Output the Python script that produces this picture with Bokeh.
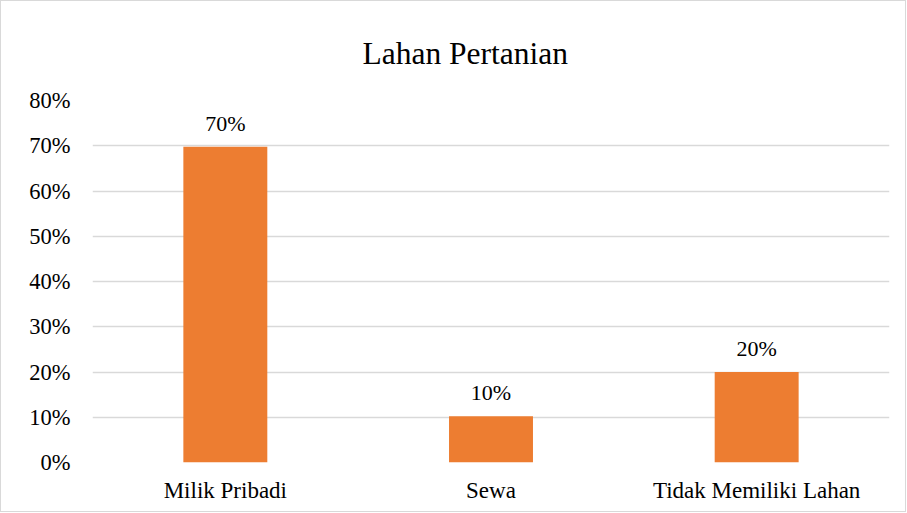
from bokeh.plotting import figure
from bokeh.models import (ColumnDataSource, FactorRange, Range1d, FixedTicker,
                          NumeralTickFormatter, LabelSet, Title)
from bokeh.embed import file_html
from bokeh.resources import INLINE

# ---- data ----
categories = ["Milik Pribadi", "Sewa", "Tidak Memiliki Lahan"]
values = [0.698, 0.102, 0.200]
value_labels = ["70%", "10%", "20%"]
y_ticks = [0.0, 0.1, 0.2, 0.3, 0.4, 0.5, 0.6, 0.7, 0.8]
title_text = "Lahan Pertanian"

FONT = "Liberation Serif"
BAR = "#ED7D31"
GRID = "#d9d9d9"
TXT = "#000000"

src = ColumnDataSource(dict(cat=categories, val=values, lab=value_labels))

p = figure(width=906, height=512, x_range=FactorRange(*categories),
           y_range=Range1d(0, 0.8), output_backend="svg", toolbar_location=None,
           min_border_left=91, min_border_right=18, min_border_top=99,
           min_border_bottom=51)
p.styles = {"border": "1px solid #d9d9d9", "box-sizing": "border-box"}
p.outline_line_color = None
p.background_fill_color = "white"
p.border_fill_color = "white"

p.vbar(x="cat", top="val", width=0.316, source=src, fill_color=BAR,
       line_color=None)

p.add_layout(LabelSet(x="cat", y="val", text="lab", source=src, y_offset=16,
                      text_align="center", text_baseline="alphabetic",
                      text_font=FONT, text_font_size="22px", text_color=TXT))

t = Title(text=title_text, align="left", offset=270, standoff=60,
          text_font=FONT, text_font_size="31.5px", text_color=TXT,
          text_font_style="normal")
p.add_layout(t, "above")

# axes
p.yaxis.ticker = FixedTicker(ticks=y_ticks)
p.yaxis.formatter = NumeralTickFormatter(format="0%")
for ax in (p.xaxis[0], p.yaxis[0]):
    ax.axis_line_color = None
    ax.major_tick_line_color = None
    ax.minor_tick_line_color = None
    ax.major_tick_out = 0
    ax.major_tick_in = 0
    ax.major_label_text_font = FONT
    ax.major_label_text_color = TXT
p.yaxis.major_label_text_font_size = "22.5px"
p.xaxis.major_label_text_font_size = "23px"
p.yaxis.major_label_standoff = 22
p.xaxis.major_label_standoff = 15

p.xgrid.grid_line_color = None
p.ygrid.ticker = FixedTicker(ticks=y_ticks)
p.ygrid.grid_line_color = GRID
p.ygrid.grid_line_width = 1.3

open("out.html", "w").write(file_html(p, INLINE))
